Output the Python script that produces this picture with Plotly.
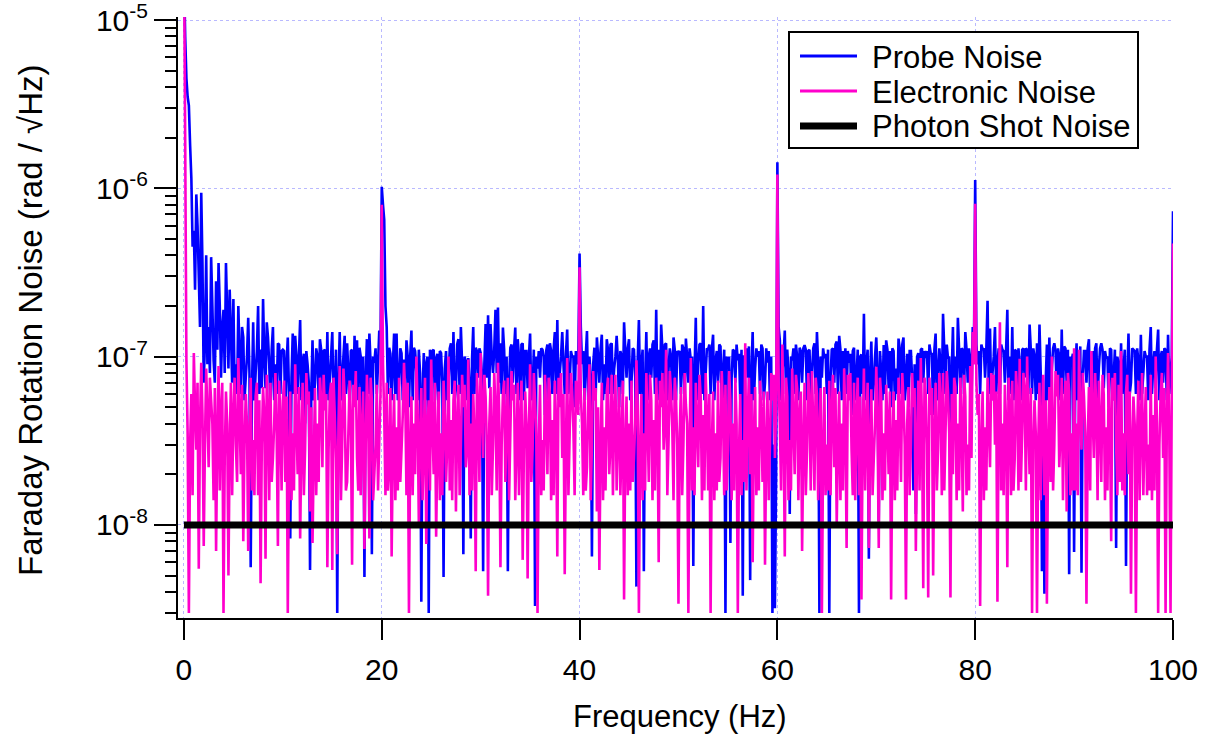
import numpy as np
import plotly.graph_objects as go

# ---------------- data (values in units of 1e-9 rad/sqrt(Hz)) ----------------
# spectrum sampled every 0.125 Hz; listed as the 0.25 Hz bins plus the bins in between
freq_step_hz = 0.125

# bins at 0, 0.25, 0.5, ... 100 Hz
electronic_noise_main_n = [
    30000, 95, 3, 60, 105, 28, 5.5, 92, 7.5, 85, 22, 55, 14, 7, 88, 48, 3, 62, 5, 70,
    45, 30, 98, 20, 8, 60, 7, 75, 32, 58, 15, 4.5, 66, 6.3, 50, 70, 25, 80, 7.5, 42,
    55, 18, 3, 62, 35, 90, 20, 8.3, 70, 28, 52, 12, 7.8, 65, 40, 75, 22, 48, 5.6, 60,
    5.4, 45, 6.7, 88, 30, 58, 18, 72, 5.8, 50, 25, 66, 38, 7.2, 78, 8.3, 55, 20, 68, 32,
    800, 45, 70, 22, 6.5, 60, 38, 75, 28, 92, 15, 3, 58, 40, 100, 10, 65, 30, 7.7, 55,
    96, 20, 8.5, 62, 35, 72, 18, 100, 42, 55, 12, 68, 30, 50, 22, 96, 40, 60, 5.3, 48,
    105, 25, 58, 3.8, 66, 30, 48, 92, 5.6, 60, 18, 75, 35, 55, 14, 70, 40, 6.2, 62, 4.8,
    90, 28, 55, 3, 68, 32, 78, 20, 60, 42, 72, 6.5, 50, 25, 5.1, 98, 35, 62, 15, 58,
    340, 40, 65, 22, 90, 30, 55, 12, 5.4, 70, 38, 62, 20, 78, 45, 16, 66, 30, 3.6, 58,
    40, 72, 25, 95, 3, 60, 35, 80, 18, 55, 42, 75, 6, 50, 28, 110, 32, 62, 14, 58,
    3.4, 66, 30, 52, 3, 98, 38, 70, 22, 58, 45, 80, 16, 3, 62, 35, 72, 25, 50, 68,
    28, 55, 40, 75, 3, 60, 32, 120, 45, 20, 6, 66, 38, 72, 18, 5.8, 62, 30, 55, 25,
    1210, 40, 118, 6.5, 58, 32, 85, 20, 65, 45, 7, 70, 28, 52, 82, 16, 60, 35, 3, 66,
    30, 72, 48, 22, 10, 62, 40, 85, 7.3, 55, 28, 70, 45, 15, 3.6, 85, 36, 7.3, 64, 25,
    87, 7.3, 58, 35, 68, 20, 3.6, 62, 42, 75, 18, 55, 3.6, 66, 30, 50, 7, 72, 98, 4.2,
    60, 3.7, 45, 5, 70, 28, 55, 80, 35, 62, 3.7, 20, 66, 40, 75, 12, 58, 30, 88, 140,
    810, 45, 3.3, 62, 38, 75, 22, 55, 30, 3.5, 160, 40, 68, 5.6, 50, 72, 25, 58, 97, 35,
    62, 100, 20, 3, 55, 3, 70, 42, 15, 3.4, 66, 100, 30, 58, 22, 75, 48, 12, 62, 35,
    112, 40, 110, 28, 58, 3.4, 66, 108, 25, 50, 72, 18, 60, 38, 80, 8, 55, 30, 68, 108,
    35, 62, 20, 3.9, 58, 3, 72, 40, 15, 66, 30, 78, 45, 100, 3, 60, 25, 3, 105, 3,
    470,
]
# bins at 0.125, 0.375, ... 99.875 Hz
electronic_noise_mid_n = [
    2000, 35, 30, 15, 50, 70, 40, 45, 30, 45, 75, 40, 65, 35, 16, 70, 25, 40, 30, 15,
    75, 18, 45, 68, 30, 40, 35, 16, 15, 70, 55, 30, 45, 78, 14, 18, 40, 35, 72, 16,
    72, 58, 25, 14, 16, 40, 66, 30, 15, 80, 62, 50, 25, 15, 18, 55, 78, 60, 28, 70,
    75, 25, 40, 14, 85, 16, 35, 42, 68, 82, 16, 15, 62, 30, 48, 75, 14, 30, 16, 60,
    90, 15, 16, 65, 30, 14, 16, 18, 45, 60, 70, 28, 15, 20, 50, 35, 14, 75, 40, 16,
    40, 70, 30, 14, 15, 45, 30, 16, 14, 72, 38, 15, 78, 68, 28, 15, 16, 35, 80, 18,
    50, 78, 30, 40, 15, 80, 16, 45, 30, 72, 40, 14, 82, 68, 30, 15, 72, 28, 40, 35,
    18, 80, 35, 30, 15, 16, 45, 75, 14, 15, 40, 75, 80, 60, 30, 15, 80, 38, 72, 45,
    60, 15, 16, 55, 14, 82, 65, 50, 28, 14, 16, 75, 30, 15, 78, 35, 15, 72, 30, 15,
    16, 18, 40, 50, 28, 14, 16, 40, 78, 14, 16, 45, 72, 80, 40, 15, 82, 38, 75, 30,
    35, 15, 80, 40, 30, 16, 15, 40, 78, 14, 16, 45, 60, 30, 14, 16, 18, 82, 15, 16,
    82, 14, 16, 40, 28, 15, 18, 16, 75, 60, 35, 15, 16, 45, 62, 30, 14, 80, 78, 50,
    70, 16, 40, 75, 14, 16, 40, 78, 14, 62, 30, 15, 80, 16, 38, 75, 14, 65, 28, 15,
    16, 15, 78, 65, 30, 14, 16, 40, 78, 80, 15, 14, 75, 58, 35, 16, 70, 30, 15, 40,
    40, 75, 14, 16, 40, 62, 30, 14, 16, 45, 80, 30, 40, 15, 80, 65, 30, 16, 40, 75,
    30, 75, 65, 35, 16, 80, 15, 16, 82, 35, 60, 75, 14, 16, 40, 78, 15, 16, 25, 90,
    70, 60, 30, 14, 16, 40, 80, 78, 62, 45, 16, 15, 40, 75, 15, 16, 82, 16, 18, 80,
    16, 40, 65, 30, 35, 30, 14, 78, 55, 30, 18, 16, 82, 78, 35, 14, 72, 80, 15, 16,
    16, 15, 45, 80, 35, 30, 16, 45, 80, 14, 40, 78, 14, 16, 40, 75, 80, 15, 18, 16,
    15, 78, 62, 30, 40, 35, 14, 80, 35, 15, 16, 14, 16, 40, 30, 80, 65, 40, 35, 60,
]

probe_noise_main_n = [
    20000, 4500, 3100, 1150, 560, 920, 300, 940, 70, 400, 150, 390, 95, 280, 360, 75, 190, 360, 85, 140,
    220, 90, 200, 60, 130, 75, 170, 5.6, 160, 80, 200, 110, 220, 65, 130, 48, 150, 90, 120, 60,
    110, 45, 130, 8.3, 137, 133, 60, 165, 94, 40, 90, 5.4, 125, 70, 100, 127, 55, 110, 140, 75,
    140, 60, 3, 140, 75, 133, 120, 50, 110, 133, 125, 113, 45, 4.9, 127, 137, 6.7, 92, 60, 143,
    1020, 650, 150, 113, 55, 137, 137, 70, 105, 96, 125, 50, 143, 113, 80, 110, 3.5, 105, 90, 3,
    60, 110, 98, 45, 105, 4.9, 108, 70, 120, 140, 65, 127, 150, 6.7, 94, 98, 8.3, 150, 113, 75,
    105, 5.3, 156, 176, 156, 80, 190, 196, 120, 149, 60, 5.3, 113, 70, 149, 127, 55, 120, 108, 65,
    137, 60, 3.3, 85, 75, 110, 45, 118, 120, 60, 140, 165, 80, 140, 60, 145, 70, 100, 50, 90,
    410, 90, 55, 142, 100, 6.5, 113, 130, 70, 135, 90, 127, 60, 120, 85, 133, 50, 100, 160, 75,
    127, 70, 110, 4.3, 165, 90, 5.3, 140, 100, 75, 125, 190, 110, 155, 60, 120, 85, 100, 130, 55,
    105, 60, 112, 128, 70, 95, 5.7, 170, 90, 120, 200, 80, 110, 60, 135, 95, 70, 115, 80, 3,
    90, 7.8, 110, 70, 95, 55, 3.8, 100, 75, 4.7, 140, 85, 100, 60, 112, 70, 92, 55, 3, 3.2,
    1430, 125, 80, 143, 110, 11.6, 95, 60, 100, 113, 70, 117, 55, 110, 80, 120, 140, 3, 75, 98,
    60, 3, 110, 70, 123, 133, 55, 85, 60, 92, 45, 113, 75, 3, 103, 180, 90, 6.3, 123, 70,
    130, 10.5, 80, 117, 125, 65, 50, 108, 85, 128, 60, 130, 75, 50, 108, 16, 11.6, 105, 110, 70,
    98, 60, 105, 45, 137, 80, 90, 180, 60, 98, 11, 150, 100, 170, 65, 110, 140, 70, 95, 150,
    1120, 90, 60, 110, 75, 215, 147, 80, 150, 90, 60, 110, 70, 190, 100, 150, 110, 55, 90, 110,
    75, 110, 155, 60, 100, 120, 155, 5.3, 3.9, 118, 130, 85, 120, 60, 100, 145, 115, 70, 5.1, 95,
    6.9, 120, 80, 5.2, 108, 70, 127, 90, 60, 120, 85, 120, 65, 98, 50, 110, 75, 7.3, 90, 120,
    85, 5.7, 137, 70, 110, 60, 95, 135, 80, 100, 55, 150, 90, 65, 145, 100, 70, 110, 135, 80,
    730,
]
probe_noise_mid_n = [
    8000, 3500, 1800, 450, 250, 600, 150, 350, 120, 90, 80, 200, 70, 110, 200, 150, 80, 180, 250, 70,
    65, 60, 100, 150, 55, 100, 80, 60, 55, 108, 60, 65, 100, 160, 90, 110, 55, 60, 118, 108,
    108, 90, 60, 75, 60, 100, 100, 55, 104, 108, 70, 60, 55, 112, 55, 110, 108, 60, 55, 100,
    55, 110, 70, 55, 100, 60, 80, 108, 55, 60, 55, 100, 100, 75, 60, 90, 100, 112, 90, 110,
    800, 200, 60, 104, 90, 60, 55, 112, 55, 60, 100, 100, 55, 108, 55, 80, 60, 55, 100, 110,
    108, 55, 104, 108, 70, 85, 55, 112, 60, 55, 118, 60, 90, 100, 55, 70, 95, 60, 108, 112,
    80, 90, 75, 65, 100, 110, 80, 70, 60, 110, 100, 70, 118, 110, 60, 100, 118, 55, 108, 100,
    55, 110, 100, 108, 112, 100, 108, 55, 108, 110, 60, 55, 100, 90, 104, 60, 108, 100, 108, 100,
    150, 108, 100, 55, 75, 90, 55, 100, 110, 55, 60, 110, 118, 60, 100, 95, 108, 60, 110, 112,
    55, 112, 75, 95, 60, 110, 70, 55, 112, 118, 60, 55, 60, 110, 118, 55, 112, 55, 110, 108,
    108, 118, 55, 100, 112, 100, 80, 55, 118, 60, 55, 112, 118, 110, 55, 108, 118, 55, 110, 100,
    100, 75, 108, 118, 104, 110, 100, 112, 115, 80, 55, 112, 108, 118, 55, 112, 108, 100, 30, 20,
    150, 55, 100, 60, 80, 100, 112, 118, 55, 108, 112, 110, 108, 55, 112, 60, 90, 100, 112, 104,
    110, 75, 112, 118, 60, 110, 108, 112, 108, 104, 108, 55, 110, 100, 60, 55, 110, 80, 55, 100,
    80, 108, 55, 60, 110, 108, 112, 55, 60, 110, 118, 55, 104, 108, 75, 90, 100, 55, 112, 108,
    108, 118, 104, 110, 55, 112, 60, 110, 118, 100, 80, 55, 60, 110, 112, 60, 110, 112, 55, 110,
    118, 108, 118, 112, 110, 60, 55, 100, 60, 112, 118, 108, 110, 55, 60, 55, 108, 112, 55, 112,
    112, 60, 110, 112, 55, 60, 80, 40, 70, 55, 60, 112, 108, 112, 55, 60, 112, 110, 100, 104,
    80, 55, 115, 75, 108, 112, 55, 108, 112, 55, 112, 110, 108, 100, 112, 55, 110, 100, 55, 60,
    110, 75, 60, 112, 108, 112, 55, 60, 108, 100, 110, 60, 108, 110, 55, 108, 112, 55, 60, 100,
]

photon_shot_noise_n = [10, 10]          # flat level across the band
shot_noise_freq_hz = [0, 100]

series_names = ["Probe Noise", "Electronic Noise", "Photon Shot Noise"]
series_colors = ["#0000ff", "#ff00cc", "#000000"]

x_tick_vals = [0, 20, 40, 60, 80, 100]
y_tick_vals = [1e-8, 1e-7, 1e-6, 1e-5]
y_tick_text = ["10<sup>-8</sup>", "10<sup>-7</sup>", "10<sup>-6</sup>", "10<sup>-5</sup>"]
y_minor_vals = [m * d for d in (1e-9, 1e-8, 1e-7, 1e-6) for m in range(2, 10)]

assert len(electronic_noise_main_n) == len(probe_noise_main_n) == 401, (len(electronic_noise_main_n), len(probe_noise_main_n))
assert len(electronic_noise_mid_n) == len(probe_noise_mid_n) == 400, (len(electronic_noise_mid_n), len(probe_noise_mid_n))


def merge(main, mid):
    out = np.empty(len(main) + len(mid))
    out[0::2] = main
    out[1::2] = mid
    return out


unit = 1e-9
probe_noise = merge(probe_noise_main_n, probe_noise_mid_n) * unit
electronic_noise = merge(electronic_noise_main_n, electronic_noise_mid_n) * unit
frequency = np.arange(len(probe_noise)) * freq_step_hz
photon_shot_noise = np.array(photon_shot_noise_n) * unit

FONT = "Liberation Sans, Arial, Helvetica, sans-serif"
FS = 31
TFS = 30

fig = go.Figure()
fig.add_trace(go.Scatter(x=frequency, y=probe_noise, mode="lines", name=series_names[0],
                         line=dict(color=series_colors[0], width=2.6, simplify=False)))
fig.add_trace(go.Scatter(x=frequency, y=electronic_noise, mode="lines", name=series_names[1],
                         line=dict(color=series_colors[1], width=2.6, simplify=False)))
fig.add_trace(go.Scatter(x=shot_noise_freq_hz, y=photon_shot_noise, mode="lines",
                         name=series_names[2], line=dict(color=series_colors[2], width=7)))

L, R, T, B = 178, 39, 17, 118
W, H = 1212, 736
pw, ph = W - L - R, H - T - B


def px(x):
    return (x - L) / pw


def py(y):
    return (H - B - y) / ph


# legend drawn by hand (box, sample lines, labels)
shapes = [dict(type="rect", xref="paper", yref="paper", x0=px(789), x1=px(1138),
               y0=py(148), y1=py(32), line=dict(color="black", width=2),
               fillcolor="white", layer="above")]
annotations = []
row_y = [56, 91, 126]
for name, color, ry, lw in zip(series_names, series_colors, row_y, [3, 3, 7]):
    shapes.append(dict(type="line", xref="paper", yref="paper", x0=px(800), x1=px(857),
                       y0=py(ry), y1=py(ry), line=dict(color=color, width=lw), layer="above"))
    annotations.append(dict(text=name, showarrow=False, xref="paper", yref="paper",
                            x=px(870), y=py(ry + 1), xanchor="left", yanchor="middle",
                            font=dict(size=FS)))

annotations += [
    dict(text="Faraday Rotation Noise (rad / √Hz)", textangle=-90, showarrow=False,
         xref="paper", yref="paper", x=px(30), y=py(321),
         xanchor="center", yanchor="middle", font=dict(size=33)),
    dict(text="Frequency (Hz)", showarrow=False, xref="paper", yref="paper",
         x=px(680), y=py(716), xanchor="center", yanchor="middle", font=dict(size=FS)),
]

fig.update_layout(
    width=W, height=H,
    margin=dict(l=L, r=R, t=T, b=B, autoexpand=False),
    paper_bgcolor="white", plot_bgcolor="white",
    font=dict(family=FONT, size=FS, color="black"),
    showlegend=False,
    xaxis=dict(range=[-0.6, 100], showline=True, linecolor="black", linewidth=2,
               ticks="outside", ticklen=20, tickwidth=2, tickcolor="black",
               tickmode="array", tickvals=x_tick_vals, ticklabelstandoff=4,
               showgrid=True, gridcolor="rgb(185,185,255)", griddash="dot", gridwidth=1,
               zeroline=False, mirror=False, tickfont=dict(size=TFS), automargin=False),
    yaxis=dict(type="log", range=[-8.553, -4.982], showline=True, linecolor="black", linewidth=2,
               ticks="outside", ticklen=22, tickwidth=2, tickcolor="black",
               tickmode="array", tickvals=y_tick_vals, ticktext=y_tick_text,
               ticklabeloverflow="allow", automargin=False,
               showgrid=True, gridcolor="rgb(185,185,255)", griddash="dot", gridwidth=1,
               zeroline=False, mirror=False, tickfont=dict(size=TFS),
               minor=dict(tickmode="array", tickvals=y_minor_vals, ticks="outside",
                          ticklen=11, tickwidth=2, tickcolor="black", showgrid=False)),
    shapes=shapes,
    annotations=annotations,
)

fig.write_html("out.html")
